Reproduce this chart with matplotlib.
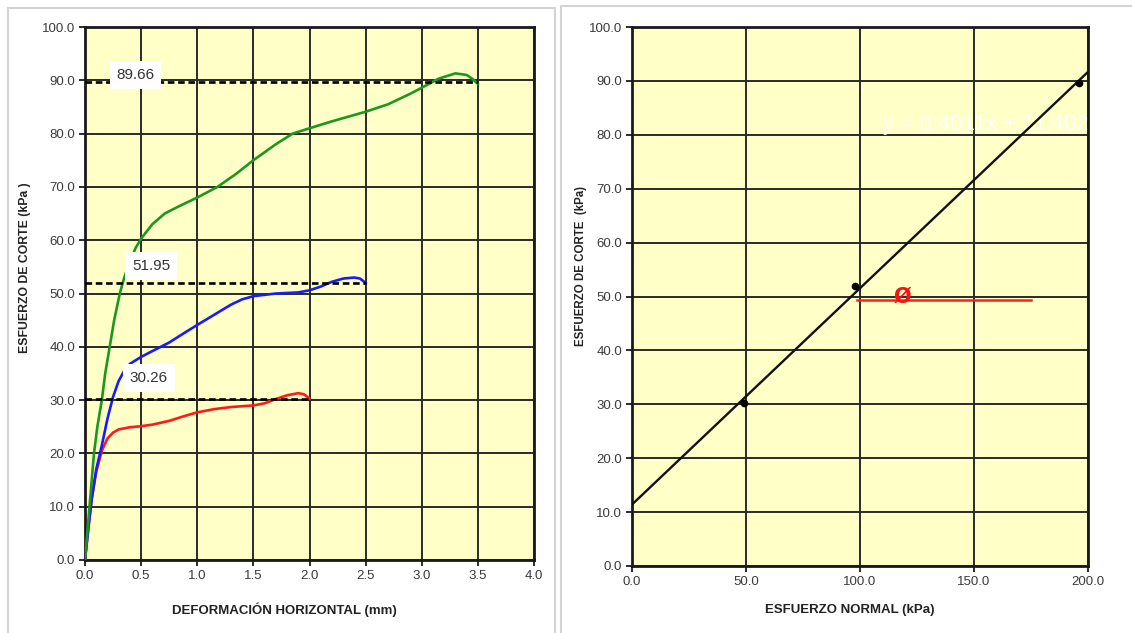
import matplotlib
matplotlib.use("Agg")
import matplotlib.pyplot as plt
import numpy as np
from matplotlib.patches import Rectangle

plt.rcParams['font.family'] = ['Liberation Sans', 'DejaVu Sans']

# ---------------- data ----------------
# Left chart: shear stress vs horizontal deformation
def_red = [0.0, 0.03, 0.06, 0.1, 0.15, 0.2, 0.25, 0.3, 0.4, 0.5, 0.6, 0.75, 0.9, 1.0, 1.15, 1.3, 1.5, 1.6, 1.7, 1.8, 1.9, 1.95, 2.0]
tau_red = [0.0, 6.0, 11.5, 16.5, 20.5, 22.8, 23.9, 24.5, 24.9, 25.1, 25.4, 26.1, 27.1, 27.7, 28.3, 28.7, 29.0, 29.4, 30.2, 30.9, 31.3, 31.1, 30.3]

def_blue = [0.0, 0.03, 0.06, 0.1, 0.15, 0.2, 0.25, 0.3, 0.35, 0.4, 0.5, 0.6, 0.75, 0.9, 1.0, 1.15, 1.3, 1.4, 1.5, 1.7, 1.9, 2.0, 2.1, 2.2, 2.3, 2.4, 2.45, 2.5]
tau_blue = [0.0, 6.0, 11.5, 17.0, 21.5, 26.5, 30.6, 33.6, 35.5, 36.8, 38.1, 39.2, 40.8, 42.8, 44.1, 46.0, 47.9, 48.9, 49.5, 50.0, 50.2, 50.6, 51.3, 52.2, 52.8, 53.0, 52.8, 52.0]

def_green = [0.0, 0.02, 0.04, 0.06, 0.08, 0.11, 0.15, 0.18, 0.22, 0.26, 0.31, 0.35, 0.4, 0.45, 0.5, 0.6, 0.71, 0.85, 1.0, 1.18, 1.35, 1.5, 1.7, 1.85, 2.0, 2.2, 2.5, 2.7, 2.9, 3.0, 3.15, 3.3, 3.4, 3.45, 3.5]
tau_green = [0.0, 5.0, 10.0, 15.0, 20.0, 25.0, 30.0, 35.0, 40.0, 45.0, 50.0, 53.0, 56.0, 58.5, 60.3, 63.0, 65.0, 66.5, 68.0, 70.0, 72.5, 75.0, 78.0, 80.0, 81.0, 82.3, 84.1, 85.5, 87.5, 88.6, 90.3, 91.3, 91.0, 90.3, 89.3]

max_x = [2.0, 2.5, 3.5]
max_tau = [30.26, 51.95, 89.66]
max_labels = ["30.26", "51.95", "89.66"]
label_x = [0.57, 0.59, 0.45]
label_y = [34.1, 55.2, 91.0]

# Right chart: failure envelope
sigma_n = [49.0, 98.0, 196.0]
tau_max = [30.26, 51.95, 89.66]
eq_text = "y = 0.4011x + 11.402"
phi_x = [98.5, 175.0]
phi_y = [49.35, 49.35]

# ---------------- figure ----------------
W, H = 1132, 633
fig = plt.figure(figsize=(W / 100, H / 100), dpi=100)
fig.patch.set_facecolor('white')

def px_axes(x0, y_top, x1, y_bot):
    return fig.add_axes([x0 / W, 1 - y_bot / H, (x1 - x0) / W, (y_bot - y_top) / H])

# panel borders
fig.patches.append(Rectangle((8 / W, 1 - 645 / H), (555 - 8) / W, (645 - 8) / H,
                             transform=fig.transFigure, fill=False, edgecolor='#d4d4d4', lw=1.5))
fig.patches.append(Rectangle((561 / W, 1 - 645 / H), (1145 - 561) / W, (645 - 6) / H,
                             transform=fig.transFigure, fill=False, edgecolor='#d4d4d4', lw=1.5))

bg = '#ffffc8'
tick_col = '#3a3a3a'

def style(ax):
    ax.set_facecolor(bg)
    ax.grid(True, color='#2a2a2a', lw=1.4)
    ax.set_axisbelow(True)
    for s in ax.spines.values():
        s.set_color('#1a1a1a')
        s.set_linewidth(2.0)
    ax.tick_params(direction='out', length=4, width=1.3, color='#1a1a1a',
                   labelsize=9.5, labelcolor=tick_col, pad=3)

# ---------------- left chart ----------------
ax1 = px_axes(85, 27, 534, 560)
style(ax1)
ax1.set_xlim(0, 4.0)
ax1.set_ylim(0, 100)
ax1.set_xticks(np.arange(0, 4.01, 0.5))
ax1.set_yticks(np.arange(0, 100.1, 10))
ax1.xaxis.set_major_formatter(matplotlib.ticker.FormatStrFormatter('%.1f'))
ax1.yaxis.set_major_formatter(matplotlib.ticker.FormatStrFormatter('%.1f'))

ax1.plot(def_red, tau_red, color='#ff1a1a', lw=1.9, zorder=3)
ax1.plot(def_blue, tau_blue, color='#1a1aff', lw=1.9, zorder=3)
ax1.plot(def_green, tau_green, color='#1e961e', lw=1.9, zorder=3)

for xm, tm, lab, lx, ly in zip(max_x, max_tau, max_labels, label_x, label_y):
    ax1.hlines(tm, 0, xm, colors='black', linestyles=(0, (2.5, 1.4)), lw=1.9, zorder=4)
    ax1.text(lx, ly, lab, fontsize=11, color='#333333', ha='center', va='center', zorder=5,
             bbox=dict(boxstyle='square,pad=0.45', facecolor='white', edgecolor='none'))

fig.text(284 / W, 1 - 610 / H, 'DEFORMACIÓN HORIZONTAL (mm)', fontsize=9.5, fontweight='bold',
         color='#222222', ha='center', va='center')
fig.text(25 / W, 1 - 268 / H, 'ESFUERZO DE CORTE (kPa )', fontsize=8.8, fontweight='bold',
         color='#222222', ha='center', va='center', rotation=90)

# ---------------- right chart ----------------
ax2 = px_axes(632, 27, 1088, 566)
style(ax2)
ax2.set_xlim(0, 200)
ax2.set_ylim(0, 100)
ax2.set_xticks(np.arange(0, 200.1, 50))
ax2.set_yticks(np.arange(0, 100.1, 10))
ax2.xaxis.set_major_formatter(matplotlib.ticker.FormatStrFormatter('%.1f'))
ax2.yaxis.set_major_formatter(matplotlib.ticker.FormatStrFormatter('%.1f'))

slope, intercept = np.polyfit(sigma_n, tau_max, 1)
xs = np.array([0.0, 200.0])
ax2.plot(xs, slope * xs + intercept, color='#111111', lw=1.7, zorder=3)
ax2.plot(sigma_n, tau_max, 'o', color='black', ms=4.5, zorder=4)
ax2.plot(phi_x, phi_y, color='#ff2020', lw=1.8, zorder=3)
ax2.text(118.5, 50.0, 'Ø', color='#ff1010', fontsize=15, fontweight='bold',
         family=['DejaVu Sans'], ha='center', va='center', zorder=4)
ax2.text(200.5, 82.0, eq_text, color='white', alpha=0.9, fontsize=16,
         ha='right', va='center', zorder=2, clip_on=True)

fig.text(850 / W, 1 - 610 / H, 'ESFUERZO NORMAL (kPa)', fontsize=9.5, fontweight='bold',
         color='#222222', ha='center', va='center')
fig.text(581 / W, 1 - 266 / H, 'ESFUERZO DE CORTE  (kPa)', fontsize=8.3, fontweight='bold',
         color='#222222', ha='center', va='center', rotation=90)

fig.savefig('out.png', dpi=100, facecolor='white')
